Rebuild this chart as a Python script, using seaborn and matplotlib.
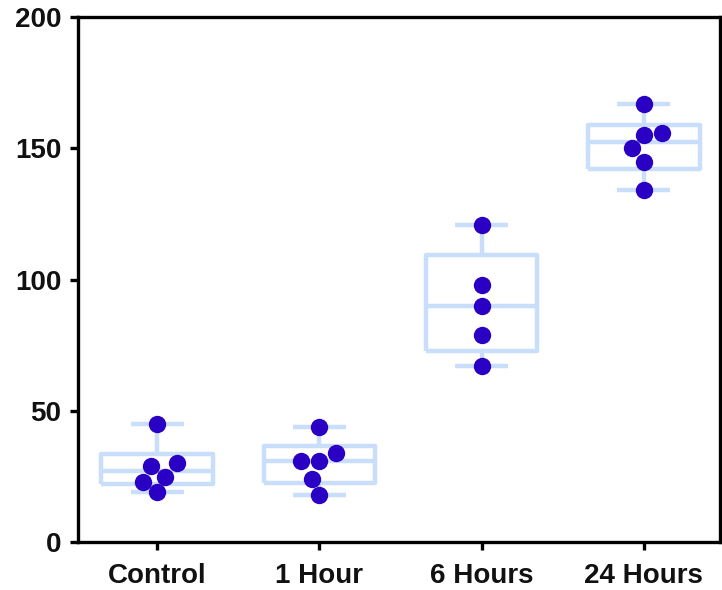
import numpy as np
import pandas as pd
import matplotlib
matplotlib.use("Agg")
import matplotlib.pyplot as plt
import seaborn as sns

sns.set_theme(style="ticks")
plt.rcParams['font.family'] = ['Liberation Sans', 'DejaVu Sans']

# values
groups = ['Control', '1 Hour', '6 Hours', '24 Hours']
control = [45, 30, 29, 25, 23, 19]
hour_1 = [44, 34, 31, 31, 24, 18]
hours_6 = [121, 98, 90, 79, 67]
hours_24 = [167, 156, 155, 150, 145, 134]

values = [control, hour_1, hours_6, hours_24]
df = pd.DataFrame({
    'Group': [g for g, v in zip(groups, values) for _ in v],
    'Value': [x for v in values for x in v],
})

box_color = '#c8defa'
dot_color = '#2a00c4'

fig = plt.figure(figsize=(7.22, 5.90), dpi=100)
ax = fig.add_axes([0.108, 0.081, 0.889, 0.890])

# Prism-style box: quartiles with (n+1)p rule, whiskers min to max
stats = []
for g, v in zip(groups, values):
    arr = np.array(v, dtype=float)
    q1, med, q3 = np.percentile(arr, [25, 50, 75], method='weibull')
    stats.append({'label': g, 'med': med, 'q1': q1, 'q3': q3,
                  'whislo': arr.min(), 'whishi': arr.max(), 'fliers': []})

line_kw = dict(color=box_color, linewidth=3.2, solid_capstyle='butt')
ax.bxp(stats, positions=range(len(groups)), widths=0.69, showfliers=False,
       boxprops=line_kw, whiskerprops=line_kw, capprops=line_kw,
       medianprops=line_kw, capwidths=0.33, manage_ticks=False, zorder=1)

sns.swarmplot(data=df, x='Group', y='Value', order=groups, color=dot_color,
              size=12.5, ax=ax, zorder=3)

ax.set_xlim(-0.49, 3.47)
ax.set_ylim(0, 200)
ax.set_yticks([0, 50, 100, 150, 200])
ax.set_xticks(range(len(groups)))
ax.set_xticklabels(groups)
ax.set_xlabel('')
ax.set_ylabel('')

for s in ax.spines.values():
    s.set_color('black')
    s.set_linewidth(2.4)

ax.tick_params(axis='both', direction='out', length=6, width=2.4,
               color='black', labelsize=20, pad=6)
ax.tick_params(axis='x', pad=9)
for lab in ax.get_xticklabels() + ax.get_yticklabels():
    lab.set_fontweight('bold')
    lab.set_color('#111111')

fig.savefig('out.png', dpi=100)
